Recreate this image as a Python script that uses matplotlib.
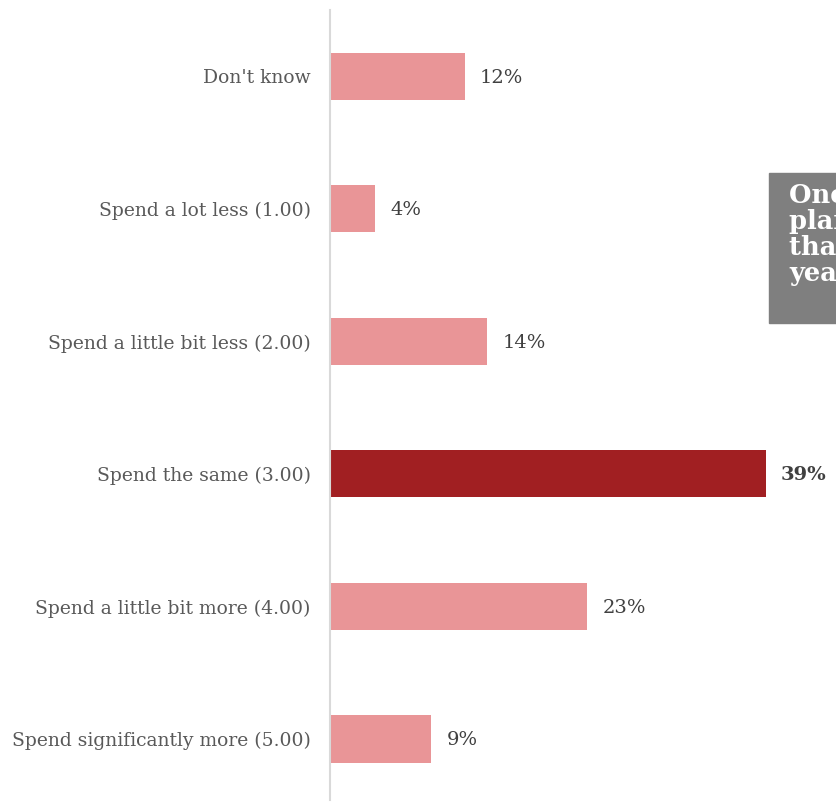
import matplotlib.pyplot as plt
from matplotlib.patches import Rectangle

# Survey answers, top to bottom
categories = ["Don't know", "Spend a lot less (1.00)", "Spend a little bit less (2.00)",
              "Spend the same (3.00)", "Spend a little bit more (4.00)",
              "Spend significantly more (5.00)"]
shares = [12, 4, 14, 39, 23, 9]
highlight = "Spend the same (3.00)"
callout = "One in three\nplan to spend more\nthan last\nyear"

W, H = 836, 802
fig = plt.figure(figsize=(W / 100, H / 100), dpi=100)
ax = fig.add_axes([330 / W, 2 / H, (W - 330) / W, 790 / H])

pos = list(range(len(categories)))
colors = ['#a11f22' if c == highlight else '#e99597' for c in categories]
ax.barh(pos, shares, height=0.355, color=colors, left=0.08)

for p, c, v in zip(pos, categories, shares):
    bold = c == highlight
    ax.text(v + 1.45, p + 0.01, f'{v}%', va='center', ha='left', fontsize=14,
            family='DejaVu Serif', color='#404040',
            fontweight='bold' if bold else 'normal')

ax.set_xlim(0, 45.4)
ax.set_ylim(5.46, -0.5)
ax.set_yticks(pos)
ax.set_yticklabels(categories, family='DejaVu Serif', fontsize=13.5, color='#595959')
ax.tick_params(axis='y', length=0, pad=14)
ax.set_xticks([])
for s in ['top', 'right', 'bottom']:
    ax.spines[s].set_visible(False)
ax.spines['left'].set_color('#d9d9d9')
ax.spines['left'].set_linewidth(1.5)

# grey callout box running off the right edge
fig.patches.append(Rectangle((769 / W, 1 - 323 / H), 200 / W, 150 / H,
                             transform=fig.transFigure, color='#7f7f7f'))
fig.text(789 / W, 1 - 183 / H, callout, ha='left', va='top', color='white',
         fontsize=18.5, fontweight='bold', family='DejaVu Serif', linespacing=1.05)

fig.savefig('out.png', dpi=100)
